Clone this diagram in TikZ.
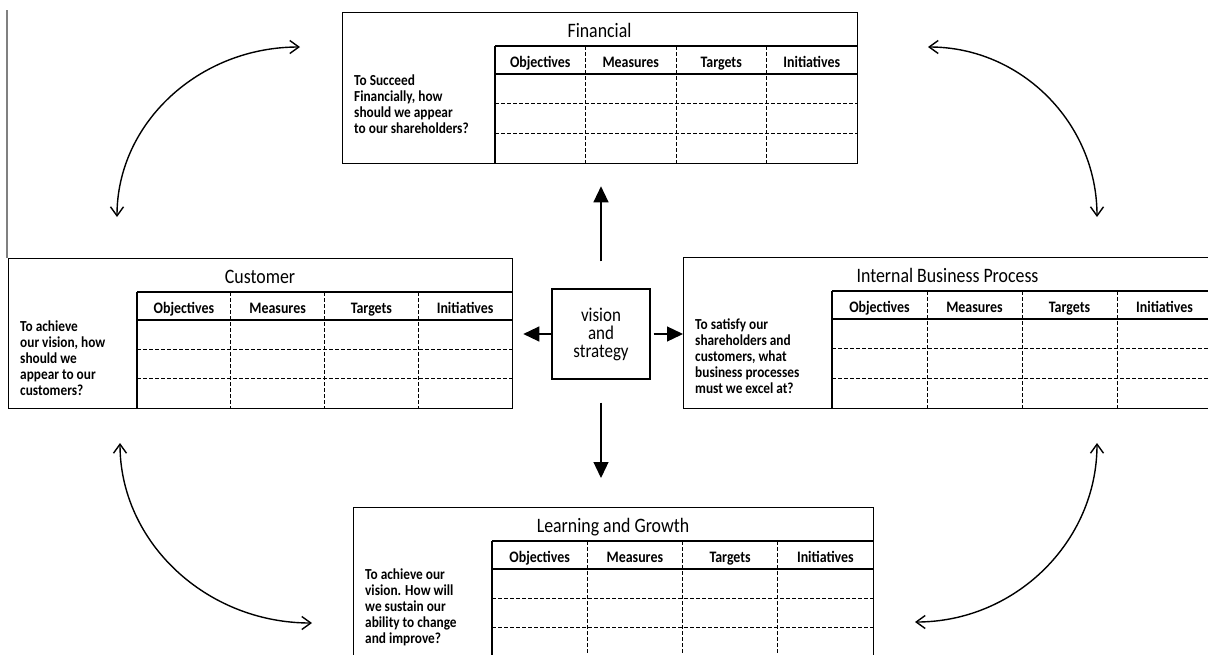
\documentclass[tikz,border=0pt]{standalone}
\usepackage{fontspec}
\setmainfont{Carlito}[FakeStretch=0.87]
\usetikzlibrary{arrows.meta}

\tikzset{
  panel/.style={draw, line width=1.3pt, inner sep=0, anchor=north west},
  ptitle/.style={font=\fontsize{20.5}{22}\selectfont, inner sep=0, anchor=base},
  colhead/.style={font=\bfseries\fontsize{16}{18}\selectfont, inner sep=0, anchor=base},
  question/.style={font=\bfseries\fontsize{15.3}{16}\selectfont, align=left,
    anchor=west, inner sep=0},
  rule/.style={line width=1.3pt},
  gridline/.style={line width=1pt, dash pattern=on 4pt off 2pt},
  push/.style={line width=1.3pt, -{Triangle[length=16pt, width=15pt]}},
  cycle/.style={line width=1.4pt,
    {Straight Barb[length=9pt, width=13pt]}-{Straight Barb[length=9pt, width=13pt]}}
}

% name, left, top, right, bottom, table left, title, question, question y
\newcommand{\perspective}[9]{%
  \pgfmathsetmacro{\pTop}{#3+34}%
  \pgfmathsetmacro{\pHead}{#3+62}%
  \pgfmathsetmacro{\pCol}{(#4-#6)/4}%
  \pgfmathsetmacro{\pRow}{(#5-\pHead)/3}%
  \node[panel, minimum width={#4-#2}, minimum height={#5-#3}] (#1) at (#2,#3) {};
  \node[ptitle] (#1-title) at ({(#2+#4)/2},#3+25) {#7};
  \node[question] (#1-q) at (#2+12,#9) {#8};
  \draw[rule] (#6,\pTop) -- (#4,\pTop);
  \draw[rule] (#6,\pTop) -- (#6,#5);
  \draw[rule] (#6,\pHead) -- (#4,\pHead);
  \foreach \k in {1,2}
    \draw[gridline] (#6,{\pHead+\k*\pRow}) -- (#4,{\pHead+\k*\pRow});
  \foreach \k in {1,2,3}
    \draw[gridline] ({#6+\k*\pCol},\pTop) -- ({#6+\k*\pCol},#5);
  \foreach \k/\h in {0/Objectives,1/Measures,2/Targets,3/Initiatives}
    \node[colhead] (#1-h\k) at ({#6+\k*\pCol+\pCol/2},#3+55) {\h};
}

\begin{document}
\begin{tikzpicture}[x=1pt, y=-1pt]
  \useasboundingbox (0,0) rectangle (1208,654);
  \clip (0,0) rectangle (1208,654);

  \perspective{fin}{342}{12}{857}{163}{495}{Financial}
    {To Succeed\\Financially, how\\should we appear\\to our shareholders?}{104}
  \perspective{cust}{8}{258}{512}{408}{137}{Customer}
    {To achieve\\our vision, how\\should we\\appear to our\\customers?}{358}
  \perspective{ibp}{683}{257}{1212}{408}{832}{Internal Business Process}
    {To satisfy our\\shareholders and\\customers, what\\business processes\\must we excel at?}{356}
  \perspective{learn}{353}{507}{873}{656}{492}{Learning and Growth}
    {To achieve our\\vision. How will\\we sustain our\\ability to change\\and improve?}{607}

  \node[draw, line width=1.3pt, minimum width=98pt, minimum height=90pt,
    align=center, font=\fontsize{19.5}{18}\selectfont]
    (vision) at (601,334) {vision\\and\\strategy};

  \draw[push, shorten <=27pt, shorten >=22pt]
    (vision.north) -- (vision.north |- fin.south);
  \draw[push, shorten >=10pt]
    (vision.west) -- (vision.west -| cust.east);
  \draw[push, shorten <=3pt]
    (vision.east) -- (vision.east -| ibp.west);
  \draw[push, shorten <=23pt, shorten >=29pt]
    (vision.south) -- (vision.south |- learn.north);

  \coordinate (c1) at (117,217);
  \coordinate (c2) at (300,47);
  \coordinate (c3) at (928,47);
  \coordinate (c4) at (1097,217);
  \coordinate (c5) at (120,443);
  \coordinate (c6) at (312,623);
  \coordinate (c7) at (1097,443);
  \coordinate (c8) at (915,622);

  \draw[cycle] (c1) .. controls (117,123) and (199,47) .. (c2);
  \draw[cycle] (c3) .. controls (1021,47) and (1097,123) .. (c4);
  \draw[cycle] (c5) .. controls (120,542) and (206,623) .. (c6);
  \draw[cycle] (c7) .. controls (1097,542) and (1015,622) .. (c8);

  \coordinate (edge) at (7,10);
  \draw[gray, line width=1.5pt] (edge) -- (edge |- cust.north);
\end{tikzpicture}
\end{document}
